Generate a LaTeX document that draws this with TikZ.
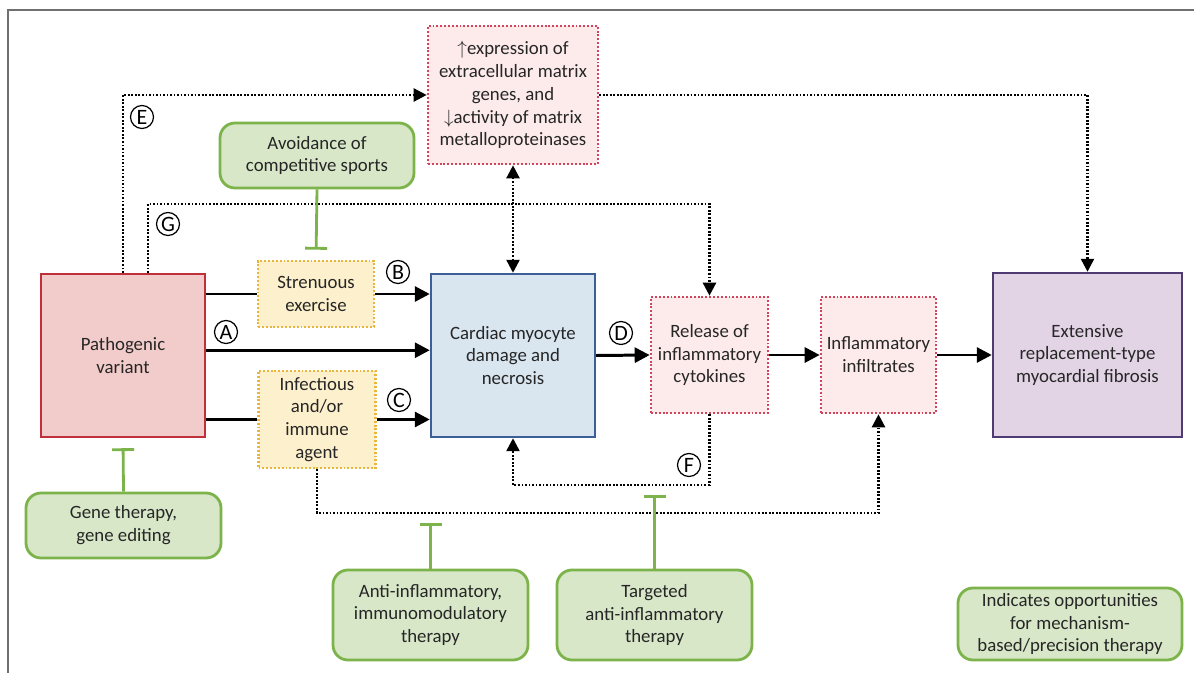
\documentclass[tikz,border=0pt]{standalone}
\usepackage{fontspec}
\setmainfont{Carlito}
\usetikzlibrary{arrows.meta,calc}
\usepackage{xcolor}
\definecolor{VariantFill}{HTML}{F2CBCB}
\definecolor{VariantLine}{HTML}{C0303A}
\definecolor{DamageFill}{HTML}{D9E6F0}
\definecolor{DamageLine}{HTML}{3B5F96}
\definecolor{FibrosisFill}{HTML}{E2D3E5}
\definecolor{FibrosisLine}{HTML}{4E3B73}
\definecolor{TriggerFill}{HTML}{FDF0CC}
\definecolor{TriggerLine}{HTML}{E8B63C}
\definecolor{MediatorFill}{HTML}{FDEBEB}
\definecolor{MediatorLine}{HTML}{D0455C}
\definecolor{TherapyFill}{HTML}{D8E7C8}
\definecolor{TherapyLine}{HTML}{7DB34B}
\definecolor{FrameLine}{HTML}{707070}
\newcommand{\TeeGap}{0.2cm}

\begin{document}
\begin{tikzpicture}[
  x=0.02cm,y=-0.02cm,
  font=\fontsize{10.7}{13}\selectfont,
  boxsize/.style 2 args={minimum width=#1*0.02cm,minimum height=#2*0.02cm},
  solidbox/.style={draw=#1,line width=1.4pt,inner sep=1pt,align=center,text=black!85},
  dotbox/.style={draw=#1,line width=1.5pt,dash pattern=on 1.1pt off 1.1pt,inner sep=1pt,align=center,text=black!85},
  therapybox/.style={draw=TherapyLine,fill=TherapyFill,line width=1.6pt,rounded corners=3mm,
    inner sep=1pt,align=center,text=black!85},
  steplabel/.style={circle,draw,line width=0.7pt,minimum size=0.46cm,inner sep=0pt,
    font=\fontsize{12.5}{12.5}\selectfont},
  flow/.style={line width=1.7pt,-{Triangle[length=3mm,width=3mm]}},
  plainflow/.style={line width=1.7pt},
  link/.style={line width=1.4pt,dash pattern=on 1pt off 1pt,-{Triangle[length=2.6mm,width=2.6mm]}},
  twolink/.style={line width=1.4pt,dash pattern=on 1pt off 1pt,
    {Triangle[length=2.6mm,width=2.6mm]}-{Triangle[length=2.6mm,width=2.6mm]}},
  tee/.style={draw=TherapyLine,line width=1.6pt,-{Bar[width=4.4mm,line width=1.6pt]},shorten >=\TeeGap}
]
\useasboundingbox (0,0) rectangle (1194,673);

% Frame
\draw[FrameLine,line width=1.1pt] (8,673) -- (8,10) -- (1194,10);

% Main chain
\node[solidbox=VariantLine,fill=VariantFill,boxsize={164}{163}] (var) at (123,355.5) {Pathogenic\\variant};
\node[solidbox=DamageLine,fill=DamageFill,boxsize={164}{163}] (dmg) at (513,355.5) {Cardiac myocyte\\damage and\\necrosis};
\node[dotbox=MediatorLine,fill=MediatorFill,boxsize={117}{116}] (cyto) at (709.5,355) {Release of\\inflammatory\\cytokines};
\node[dotbox=MediatorLine,fill=MediatorFill,boxsize={115}{116}] (infl) at (878.5,355) {Inflammatory\\infiltrates};
\node[solidbox=FibrosisLine,fill=FibrosisFill,boxsize={189}{164}] (fib) at (1087.5,355) {Extensive\\replacement-type\\myocardial fibrosis};

% Triggers and matrix box
\node[dotbox=TriggerLine,fill=TriggerFill,boxsize={116}{66}] (exer) at (316,294) {Strenuous\\exercise};
\node[dotbox=TriggerLine,fill=TriggerFill,boxsize={117}{97}] (agent) at (317,419.5) {Infectious\\and/or\\immune\\agent};
\node[dotbox=MediatorLine,fill=MediatorFill,boxsize={170}{138}] (ecm) at (513,95)
  {$\uparrow$expression of\\extracellular matrix\\genes, and\\$\downarrow$activity of matrix\\metalloproteinases};

% Therapies
\node[therapybox,boxsize={194}{65}] (avoid) at (317,155.5) {Avoidance of\\competitive sports};
\node[therapybox,boxsize={195}{65}] (gene) at (123.5,525.5) {Gene therapy,\\gene editing};
\node[therapybox,boxsize={195}{90}] (antii) at (430.5,615) {Anti-inflammatory,\\immunomodulatory\\therapy};
\node[therapybox,boxsize={195}{90}] (target) at (654.5,615) {Targeted\\anti-inflammatory\\therapy};
\node[therapybox,boxsize={224}{72}] (note) at (1070,624) {Indicates opportunities\\for mechanism-\\based/precision therapy};

% Turning points of the dotted paths
\coordinate (gtop) at (148,204);
\coordinate (fbot) at (711,485);
\coordinate (abot) at (318,513);

% Solid paths
\draw[plainflow] (var.east |- exer.west) -- (exer.west);
\draw[flow] (exer.east) -- (dmg.west |- exer.east);
\draw[flow] ([yshift=3pt]var.east) -- ([yshift=3pt]dmg.west);
\draw[plainflow] (var.east |- agent.west) -- (agent.west);
\draw[flow] (agent.east) -- (dmg.west |- agent.east);
\draw[flow] (dmg.east) -- (cyto.west);
\draw[flow] (cyto.east) -- (infl.west);
\draw[flow] (infl.east) -- (fib.west);

% Dotted paths
\draw[link] (var.north) |- (ecm.west);
\draw[link] (ecm.east) -| (fib.north);
\draw[twolink] (ecm.south) -- (dmg.north);
\draw[link] (var.north -| gtop) -- (gtop) -| (cyto.north);
\draw[link] (cyto.south |- fbot) -| (dmg.south);
\draw[line width=1.4pt,dash pattern=on 1pt off 1pt] (cyto.south) -- (cyto.south |- fbot);
\draw[link] (agent.south) |- (abot) -| (infl.south);

% Therapy bars
\draw[tee] (avoid.south) -- (exer.north);
\draw[tee] (gene.north) -- (var.south);
\draw[tee] (antii.north) -- (antii.north |- abot);
\draw[tee] (target.north) -- (target.north |- fbot);

% Step letters
\node[steplabel] (la) at (226,332) {A};
\node[steplabel] (lb) at (398,272) {B};
\node[steplabel] (lc) at (399,400) {C};
\node[steplabel] (ld) at (621,333) {D};
\node[steplabel] (le) at (142,117) {E};
\node[steplabel] (lf) at (689,465) {F};
\node[steplabel] (lg) at (168,224) {G};

\end{tikzpicture}
\end{document}
